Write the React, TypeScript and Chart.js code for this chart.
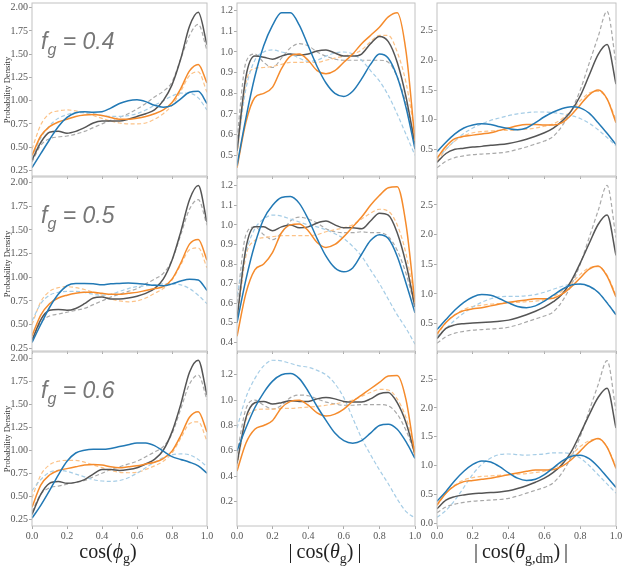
import { useEffect, useRef } from 'react';
import Chart from 'chart.js/auto';

// sample positions shared by every curve
const xs = [0, 0.05, 0.1, 0.15, 0.2, 0.25, 0.3, 0.35, 0.4, 0.45, 0.5, 0.55, 0.6, 0.65, 0.7, 0.75, 0.8, 0.85, 0.9, 0.95, 1.0];

const xTicks = [0, 0.2, 0.4, 0.6, 0.8, 1.0];
const yTicksPhi = [0.25, 0.5, 0.75, 1.0, 1.25, 1.5, 1.75, 2.0];
const yTicksTheta4 = [0.5, 0.6, 0.7, 0.8, 0.9, 1.0, 1.1, 1.2];
const yTicksTheta5 = [0.4, 0.5, 0.6, 0.7, 0.8, 0.9, 1.0, 1.1, 1.2];
const yTicksTheta6 = [0.2, 0.4, 0.6, 0.8, 1.0, 1.2];
const yTicksDm = [0.5, 1.0, 1.5, 2.0, 2.5];
const yTicksDm6 = [0.0, 0.5, 1.0, 1.5, 2.0, 2.5];

const fgLabels = ['0.4', '0.5', '0.6'];

// cos(phi_g), f_g = 0.4
const phi4Blue = [0.28, 0.43, 0.58, 0.72, 0.82, 0.87, 0.88, 0.875, 0.88, 0.92, 0.97, 1.0, 1.01, 0.99, 0.95, 0.93, 0.95, 1.02, 1.09, 1.10, 0.97];
const phi4Orange = [0.41, 0.62, 0.72, 0.77, 0.80, 0.83, 0.845, 0.85, 0.84, 0.82, 0.80, 0.80, 0.81, 0.83, 0.86, 0.90, 0.98, 1.13, 1.32, 1.39, 1.19];
const phi4Grey = [0.36, 0.55, 0.66, 0.67, 0.65, 0.67, 0.71, 0.76, 0.78, 0.78, 0.78, 0.80, 0.83, 0.86, 0.90, 1.0, 1.17, 1.45, 1.80, 1.95, 1.60];
const phi4BlueDash = [0.38, 0.60, 0.73, 0.81, 0.85, 0.87, 0.87, 0.86, 0.84, 0.83, 0.83, 0.84, 0.86, 0.90, 0.95, 1.0, 1.05, 1.08, 1.08, 1.03, 0.90];
const phi4OrangeDash = [0.48, 0.74, 0.86, 0.89, 0.90, 0.89, 0.87, 0.84, 0.81, 0.78, 0.76, 0.75, 0.75, 0.76, 0.80, 0.86, 0.95, 1.10, 1.27, 1.31, 1.09];
const phi4GreyDash = [0.34, 0.52, 0.59, 0.61, 0.62, 0.64, 0.67, 0.71, 0.75, 0.79, 0.82, 0.86, 0.91, 0.97, 1.04, 1.10, 1.20, 1.45, 1.70, 1.82, 1.54];

// |cos(theta_g)|, f_g = 0.4
const th4Blue = [0.45, 0.68, 0.88, 1.03, 1.13, 1.19, 1.19, 1.13, 1.03, 0.93, 0.85, 0.80, 0.785, 0.81, 0.87, 0.94, 0.99, 0.97, 0.88, 0.73, 0.53];
const th4Orange = [0.44, 0.66, 0.78, 0.80, 0.83, 0.92, 0.98, 0.99, 0.96, 0.91, 0.895, 0.91, 0.95, 0.99, 1.04, 1.08, 1.12, 1.17, 1.19, 1.0, 0.57];
const th4Grey = [0.52, 0.88, 0.98, 0.975, 0.965, 0.98, 0.99, 0.985, 0.99, 1.005, 1.01, 0.995, 0.98, 0.98, 0.99, 1.04, 1.075, 1.05, 0.95, 0.78, 0.55];
const th4BlueDash = [0.52, 0.82, 0.96, 1.0, 1.01, 1.0, 0.99, 0.97, 0.955, 0.96, 0.98, 0.995, 1.0, 0.99, 0.96, 0.91, 0.86, 0.79, 0.70, 0.60, 0.50];
const th4OrangeDash = [0.50, 0.85, 0.92, 0.925, 0.93, 0.94, 0.95, 0.95, 0.95, 0.95, 0.96, 0.97, 0.98, 0.99, 1.01, 1.05, 1.08, 1.08, 1.0, 0.85, 0.60];
const th4GreyDash = [0.58, 0.95, 0.99, 0.95, 0.925, 0.97, 1.02, 1.04, 1.03, 1.0, 0.98, 0.965, 0.96, 0.96, 0.96, 0.96, 0.96, 0.95, 0.88, 0.75, 0.57];

// |cos(theta_g,dm)|, f_g = 0.4
const dm4Blue = [0.46, 0.62, 0.76, 0.86, 0.91, 0.93, 0.92, 0.88, 0.85, 0.83, 0.86, 0.95, 1.05, 1.13, 1.19, 1.22, 1.20, 1.11, 0.95, 0.77, 0.58];
const dm4Orange = [0.35, 0.55, 0.68, 0.72, 0.74, 0.76, 0.78, 0.82, 0.86, 0.90, 0.92, 0.92, 0.91, 0.91, 0.95, 1.08, 1.25, 1.42, 1.50, 1.35, 0.95];
const dm4Grey = [0.28, 0.43, 0.50, 0.52, 0.54, 0.55, 0.57, 0.58, 0.60, 0.63, 0.67, 0.72, 0.78, 0.86, 0.98, 1.15, 1.40, 1.75, 2.10, 2.27, 1.60];
const dm4BlueDash = [0.35, 0.50, 0.65, 0.77, 0.86, 0.93, 0.99, 1.03, 1.07, 1.10, 1.12, 1.13, 1.13, 1.12, 1.10, 1.07, 1.02, 0.94, 0.83, 0.70, 0.56];
const dm4OrangeDash = [0.30, 0.50, 0.64, 0.73, 0.78, 0.80, 0.81, 0.82, 0.82, 0.83, 0.84, 0.86, 0.89, 0.93, 1.02, 1.15, 1.32, 1.45, 1.48, 1.35, 1.0];
const dm4GreyDash = [0.19, 0.30, 0.36, 0.39, 0.41, 0.42, 0.43, 0.44, 0.46, 0.50, 0.54, 0.59, 0.64, 0.72, 0.90, 1.15, 1.50, 1.95, 2.40, 2.83, 1.95];

// cos(phi_g), f_g = 0.5
const phi5Blue = [0.31, 0.50, 0.68, 0.82, 0.91, 0.935, 0.935, 0.93, 0.92, 0.93, 0.935, 0.94, 0.935, 0.925, 0.915, 0.91, 0.93, 0.96, 0.98, 0.97, 0.86];
const phi5Orange = [0.38, 0.60, 0.72, 0.78, 0.81, 0.83, 0.84, 0.84, 0.83, 0.82, 0.82, 0.83, 0.84, 0.86, 0.88, 0.90, 0.98, 1.15, 1.35, 1.40, 1.18];
const phi5Grey = [0.33, 0.55, 0.65, 0.66, 0.65, 0.67, 0.72, 0.78, 0.79, 0.77, 0.77, 0.78, 0.80, 0.83, 0.88, 0.98, 1.18, 1.48, 1.82, 1.97, 1.58];
const phi5BlueDash = [0.54, 0.72, 0.81, 0.84, 0.85, 0.85, 0.84, 0.82, 0.81, 0.82, 0.85, 0.88, 0.90, 0.91, 0.92, 0.93, 0.93, 0.92, 0.88, 0.81, 0.72];
const phi5OrangeDash = [0.50, 0.74, 0.85, 0.89, 0.90, 0.89, 0.87, 0.84, 0.81, 0.77, 0.75, 0.74, 0.75, 0.78, 0.83, 0.88, 0.97, 1.13, 1.29, 1.31, 1.10];
const phi5GreyDash = [0.35, 0.52, 0.59, 0.61, 0.63, 0.65, 0.67, 0.71, 0.75, 0.79, 0.82, 0.85, 0.88, 0.93, 0.98, 1.04, 1.18, 1.45, 1.72, 1.82, 1.55];

// |cos(theta_g)|, f_g = 0.5
const th5Blue = [0.50, 0.72, 0.90, 1.03, 1.10, 1.14, 1.145, 1.11, 1.03, 0.93, 0.84, 0.78, 0.76, 0.78, 0.85, 0.92, 0.95, 0.93, 0.84, 0.70, 0.55];
const th5Orange = [0.43, 0.65, 0.77, 0.80, 0.86, 0.96, 1.0, 1.005, 0.97, 0.91, 0.885, 0.90, 0.94, 0.99, 1.04, 1.10, 1.15, 1.19, 1.195, 1.0, 0.60];
const th5Grey = [0.52, 0.88, 0.99, 0.99, 0.97, 0.99, 1.0, 0.985, 0.99, 1.01, 1.02, 1.0, 0.985, 0.985, 0.98, 1.02, 1.06, 1.05, 0.96, 0.80, 0.58];
const th5BlueDash = [0.64, 0.86, 0.98, 1.03, 1.05, 1.045, 1.03, 1.015, 1.0, 0.99, 0.975, 0.955, 0.93, 0.89, 0.84, 0.77, 0.70, 0.62, 0.54, 0.47, 0.39];
const th5OrangeDash = [0.50, 0.84, 0.92, 0.935, 0.94, 0.945, 0.945, 0.945, 0.945, 0.95, 0.965, 0.975, 0.985, 1.0, 1.03, 1.06, 1.08, 1.07, 1.0, 0.85, 0.60];
const th5GreyDash = [0.60, 0.95, 0.99, 0.95, 0.925, 0.96, 1.02, 1.04, 1.03, 1.01, 0.98, 0.965, 0.96, 0.96, 0.965, 0.96, 0.96, 0.94, 0.87, 0.75, 0.58];

// |cos(theta_g,dm)|, f_g = 0.5
const dm5Blue = [0.40, 0.57, 0.73, 0.86, 0.95, 0.99, 0.98, 0.92, 0.85, 0.79, 0.77, 0.80, 0.88, 0.98, 1.08, 1.15, 1.17, 1.13, 1.03, 0.85, 0.65];
const dm5Orange = [0.33, 0.52, 0.65, 0.72, 0.75, 0.77, 0.80, 0.83, 0.86, 0.88, 0.90, 0.92, 0.92, 0.93, 1.0, 1.12, 1.27, 1.42, 1.47, 1.30, 0.95];
const dm5Grey = [0.25, 0.42, 0.48, 0.50, 0.51, 0.52, 0.53, 0.54, 0.56, 0.60, 0.65, 0.71, 0.78, 0.87, 1.0, 1.22, 1.52, 1.85, 2.17, 2.33, 1.65];
const dm5BlueDash = [0.28, 0.42, 0.56, 0.68, 0.78, 0.86, 0.92, 0.95, 0.96, 0.96, 0.97, 0.99, 1.03, 1.08, 1.13, 1.16, 1.16, 1.12, 1.03, 0.86, 0.65];
const dm5OrangeDash = [0.30, 0.52, 0.65, 0.74, 0.79, 0.81, 0.83, 0.84, 0.85, 0.86, 0.87, 0.88, 0.90, 0.96, 1.05, 1.18, 1.33, 1.44, 1.46, 1.32, 0.98];
const dm5GreyDash = [0.17, 0.28, 0.34, 0.37, 0.39, 0.40, 0.41, 0.42, 0.44, 0.48, 0.53, 0.58, 0.63, 0.70, 0.88, 1.15, 1.50, 1.95, 2.40, 2.83, 1.95];

// cos(phi_g), f_g = 0.6
const phi6Blue = [0.26, 0.40, 0.56, 0.73, 0.88, 0.97, 1.0, 1.01, 1.01, 1.02, 1.04, 1.06, 1.08, 1.08, 1.05, 0.99, 0.93, 0.90, 0.87, 0.83, 0.75];
const phi6Orange = [0.38, 0.62, 0.73, 0.78, 0.80, 0.82, 0.84, 0.845, 0.84, 0.82, 0.81, 0.82, 0.83, 0.85, 0.87, 0.91, 0.99, 1.16, 1.36, 1.42, 1.20];
const phi6Grey = [0.30, 0.52, 0.64, 0.66, 0.64, 0.65, 0.68, 0.74, 0.79, 0.79, 0.78, 0.79, 0.81, 0.85, 0.90, 1.0, 1.20, 1.50, 1.85, 1.98, 1.60];
const phi6BlueDash = [0.56, 0.68, 0.76, 0.78, 0.77, 0.74, 0.71, 0.68, 0.665, 0.66, 0.67, 0.70, 0.75, 0.81, 0.87, 0.92, 0.95, 0.96, 0.95, 0.90, 0.82];
const phi6OrangeDash = [0.48, 0.73, 0.84, 0.88, 0.89, 0.89, 0.87, 0.84, 0.81, 0.78, 0.76, 0.755, 0.76, 0.79, 0.83, 0.88, 0.97, 1.13, 1.29, 1.31, 1.10];
const phi6GreyDash = [0.33, 0.52, 0.59, 0.61, 0.63, 0.65, 0.67, 0.71, 0.75, 0.79, 0.82, 0.85, 0.88, 0.93, 0.98, 1.04, 1.18, 1.45, 1.72, 1.82, 1.55];

// |cos(theta_g)|, f_g = 0.6
const th6Blue = [0.60, 0.78, 0.94, 1.06, 1.15, 1.20, 1.21, 1.17, 1.07, 0.95, 0.84, 0.74, 0.68, 0.66, 0.68, 0.74, 0.80, 0.81, 0.77, 0.67, 0.54];
const th6Orange = [0.44, 0.66, 0.77, 0.80, 0.84, 0.94, 0.99, 1.0, 0.96, 0.90, 0.875, 0.89, 0.93, 0.99, 1.04, 1.09, 1.14, 1.19, 1.195, 1.0, 0.56];
const th6Grey = [0.50, 0.86, 0.98, 0.99, 0.97, 0.98, 0.995, 0.99, 0.99, 1.01, 1.02, 1.01, 0.99, 0.985, 0.985, 1.01, 1.05, 1.06, 0.98, 0.82, 0.57];
const th6BlueDash = [0.78, 1.02, 1.17, 1.27, 1.315, 1.31, 1.29, 1.27, 1.26, 1.235, 1.20, 1.13, 1.02, 0.86, 0.70, 0.57, 0.45, 0.34, 0.22, 0.12, 0.07];
const th6OrangeDash = [0.48, 0.84, 0.92, 0.93, 0.93, 0.935, 0.935, 0.94, 0.945, 0.95, 0.96, 0.97, 0.985, 1.0, 1.03, 1.06, 1.085, 1.08, 1.01, 0.86, 0.61];
const th6GreyDash = [0.58, 0.93, 1.0, 0.96, 0.93, 0.96, 1.02, 1.04, 1.035, 1.01, 0.985, 0.97, 0.96, 0.96, 0.965, 0.965, 0.965, 0.955, 0.89, 0.76, 0.58];

// |cos(theta_g,dm)|, f_g = 0.6
const dm6Blue = [0.38, 0.55, 0.74, 0.90, 1.02, 1.08, 1.06, 0.98, 0.87, 0.78, 0.74, 0.76, 0.84, 0.96, 1.08, 1.16, 1.18, 1.12, 0.98, 0.80, 0.62];
const dm6Orange = [0.32, 0.52, 0.65, 0.72, 0.74, 0.76, 0.78, 0.81, 0.84, 0.87, 0.90, 0.92, 0.92, 0.93, 0.99, 1.10, 1.25, 1.40, 1.47, 1.32, 0.95];
const dm6Grey = [0.25, 0.40, 0.46, 0.49, 0.51, 0.52, 0.53, 0.54, 0.56, 0.60, 0.65, 0.71, 0.78, 0.88, 1.02, 1.24, 1.55, 1.88, 2.18, 2.34, 1.65];
const dm6BlueDash = [0.10, 0.22, 0.40, 0.62, 0.85, 1.02, 1.13, 1.19, 1.20, 1.19, 1.18, 1.19, 1.20, 1.22, 1.22, 1.20, 1.13, 1.00, 0.84, 0.68, 0.52];
const dm6OrangeDash = [0.30, 0.52, 0.66, 0.75, 0.79, 0.81, 0.82, 0.83, 0.84, 0.85, 0.86, 0.88, 0.90, 0.96, 1.05, 1.18, 1.33, 1.43, 1.46, 1.32, 0.98];
const dm6GreyDash = [0.18, 0.28, 0.33, 0.36, 0.38, 0.39, 0.40, 0.41, 0.43, 0.47, 0.52, 0.57, 0.62, 0.70, 0.88, 1.15, 1.50, 1.95, 2.40, 2.82, 1.95];

interface Panel {
  row: number;
  col: number;
  series: number[][]; // blue, orange, grey, then the three dashed ones
  yMin: number;
  yMax: number;
  yTicks: number[];
  digits: number;
}

const panels: Panel[] = [
  { row: 0, col: 0, series: [phi4Blue, phi4Orange, phi4Grey, phi4BlueDash, phi4OrangeDash, phi4GreyDash], yMin: 0.19, yMax: 2.05, yTicks: yTicksPhi, digits: 2 },
  { row: 0, col: 1, series: [th4Blue, th4Orange, th4Grey, th4BlueDash, th4OrangeDash, th4GreyDash], yMin: 0.4, yMax: 1.237, yTicks: yTicksTheta4, digits: 1 },
  { row: 0, col: 2, series: [dm4Blue, dm4Orange, dm4Grey, dm4BlueDash, dm4OrangeDash, dm4GreyDash], yMin: 0.05, yMax: 2.97, yTicks: yTicksDm, digits: 1 },
  { row: 1, col: 0, series: [phi5Blue, phi5Orange, phi5Grey, phi5BlueDash, phi5OrangeDash, phi5GreyDash], yMin: 0.22, yMax: 2.06, yTicks: yTicksPhi, digits: 2 },
  { row: 1, col: 1, series: [th5Blue, th5Orange, th5Grey, th5BlueDash, th5OrangeDash, th5GreyDash], yMin: 0.355, yMax: 1.245, yTicks: yTicksTheta5, digits: 1 },
  { row: 1, col: 2, series: [dm5Blue, dm5Orange, dm5Grey, dm5BlueDash, dm5OrangeDash, dm5GreyDash], yMin: 0.04, yMax: 2.97, yTicks: yTicksDm, digits: 1 },
  { row: 2, col: 0, series: [phi6Blue, phi6Orange, phi6Grey, phi6BlueDash, phi6OrangeDash, phi6GreyDash], yMin: 0.175, yMax: 2.07, yTicks: yTicksPhi, digits: 2 },
  { row: 2, col: 1, series: [th6Blue, th6Orange, th6Grey, th6BlueDash, th6OrangeDash, th6GreyDash], yMin: 0.007, yMax: 1.38, yTicks: yTicksTheta6, digits: 1 },
  { row: 2, col: 2, series: [dm6Blue, dm6Orange, dm6Grey, dm6BlueDash, dm6OrangeDash, dm6GreyDash], yMin: -0.05, yMax: 2.97, yTicks: yTicksDm6, digits: 1 },
];

const LINE_STYLES = [
  { color: '#2279b5', dash: [] as number[], width: 1.5 },
  { color: '#f58b2c', dash: [] as number[], width: 1.5 },
  { color: '#555555', dash: [] as number[], width: 1.5 },
  { color: '#a6cde6', dash: [4, 2.5], width: 1.2 },
  { color: '#fcc287', dash: [4, 2.5], width: 1.2 },
  { color: '#a9a9a9', dash: [4, 2.5], width: 1.2 },
];

const COL_LEFT = [32, 237, 437];
const COL_W = [175, 178, 179];
const ROW_TOP = [3, 177, 352];
const ROW_H = [173, 174, 174];
// centres of the x-axis titles as they sit in the figure
const TITLE_X = [108, 325, 521];
const AXIS_W = 30;
const PAD_T = 8;
const PAD_R = 10;
const X_H = 4;
const X_H_LAB = 22;
const BORDER = '#c2c2c2';
const TICK_FONT = { family: "'Liberation Serif', serif", size: 10 };

const boxPlugin = {
  id: 'panelBox',
  afterDraw(chart: any) {
    const { ctx, chartArea: a } = chart;
    ctx.save();
    ctx.strokeStyle = BORDER;
    ctx.lineWidth = 1;
    ctx.strokeRect(a.left, a.top, a.right - a.left, a.bottom - a.top);
    ctx.restore();
  },
};

const PanelChart = ({ p }: { p: Panel }) => {
  const canvasRef = useRef<HTMLCanvasElement | null>(null);
  const bottomRow = p.row === 2;
  const xh = bottomRow ? X_H_LAB : X_H;

  useEffect(() => {
    if (!canvasRef.current) return;
    const chart = new Chart(canvasRef.current, {
      type: 'line',
      data: {
        datasets: p.series.map((s, i) => ({
          data: xs.map((x, j) => ({ x, y: s[j] })),
          borderColor: LINE_STYLES[i].color,
          borderDash: LINE_STYLES[i].dash,
          borderWidth: LINE_STYLES[i].width,
          pointRadius: 0,
          cubicInterpolationMode: 'monotone' as const,
          fill: false,
        })),
      },
      options: {
        animation: false,
        responsive: true,
        maintainAspectRatio: false,
        events: [],
        layout: { padding: { top: PAD_T, right: PAD_R, left: 0, bottom: 0 } },
        plugins: { legend: { display: false }, tooltip: { enabled: false } },
        scales: {
          x: {
            type: 'linear',
            min: 0,
            max: 1,
            afterBuildTicks: (scale: any) => {
              scale.ticks = xTicks.map((v) => ({ value: v }));
            },
            afterFit: (scale: any) => {
              scale.height = xh;
              scale.paddingLeft = 0;
              scale.paddingRight = 0;
            },
            grid: { drawOnChartArea: false, color: BORDER, tickColor: '#aaa', tickLength: 3 },
            border: { display: false },
            ticks: {
              display: bottomRow,
              padding: 1,
              maxRotation: 0,
              autoSkip: false,
              color: '#555',
              font: TICK_FONT,
              callback: (v: any) => Number(v).toFixed(1),
            },
          },
          y: {
            type: 'linear',
            min: p.yMin,
            max: p.yMax,
            afterBuildTicks: (scale: any) => {
              scale.ticks = p.yTicks.map((v) => ({ value: v }));
            },
            afterFit: (scale: any) => {
              scale.width = AXIS_W;
              scale.paddingTop = 0;
              scale.paddingBottom = 0;
            },
            grid: { drawOnChartArea: false, color: BORDER, tickColor: '#aaa', tickLength: 3 },
            border: { display: false },
            ticks: {
              padding: 1,
              autoSkip: false,
              color: '#555',
              font: TICK_FONT,
              callback: (v: any) => Number(v).toFixed(p.digits),
            },
          },
        },
      },
      plugins: [boxPlugin],
    });
    return () => {
      chart.destroy();
    };
  }, [p]);

  return (
    <div
      style={{
        position: 'absolute',
        left: COL_LEFT[p.col] - AXIS_W,
        top: ROW_TOP[p.row] - PAD_T,
        width: AXIS_W + COL_W[p.col] + PAD_R,
        height: PAD_T + ROW_H[p.row] + xh,
      }}
    >
      <canvas ref={canvasRef} />
    </div>
  );
};

const subStyle: React.CSSProperties = { fontSize: 14, position: 'relative', top: 5 };

const App = () => {
  const titleBase: React.CSSProperties = {
    position: 'absolute',
    top: 541,
    transform: 'translateX(-50%)',
    font: "20px 'Liberation Serif', serif",
    lineHeight: 1,
    color: '#222',
    whiteSpace: 'nowrap',
  };
  return (
    <div style={{ position: 'absolute', left: 0, top: 0, width: 623, height: 568, background: '#fff', overflow: 'hidden' }}>
      {panels.map((p) => (
        <PanelChart key={`${p.row}-${p.col}`} p={p} />
      ))}

      {fgLabels.map((v, r) => (
        <div
          key={v}
          style={{
            position: 'absolute',
            left: 41,
            top: ROW_TOP[r] + 27,
            font: "italic 23px 'Liberation Sans', sans-serif",
            lineHeight: 1,
            color: '#777',
            whiteSpace: 'nowrap',
          }}
        >
          f<span style={{ fontSize: 16, position: 'relative', top: 6 }}>g</span> = {v}
        </div>
      ))}

      {ROW_TOP.map((t, r) => (
        <div
          key={r}
          style={{
            position: 'absolute',
            left: 6.5,
            top: t + ROW_H[r] / 2,
            transform: 'translate(-50%, -50%) rotate(-90deg)',
            font: "8.5px 'Liberation Serif', serif",
            color: '#333',
            whiteSpace: 'nowrap',
            lineHeight: 1,
          }}
        >
          Probability Density
        </div>
      ))}

      <div style={{ ...titleBase, left: TITLE_X[0] }}>
        cos(<i>ϕ</i>
        <span style={subStyle}>g</span>)
      </div>
      <div style={{ ...titleBase, left: TITLE_X[1] }}>
        |&thinsp;cos(<i>θ</i>
        <span style={subStyle}>g</span>)&thinsp;|
      </div>
      <div style={{ ...titleBase, left: TITLE_X[2] }}>
        |&thinsp;cos(<i>θ</i>
        <span style={subStyle}>g,dm</span>)&thinsp;|
      </div>
    </div>
  );
};

export default App;
